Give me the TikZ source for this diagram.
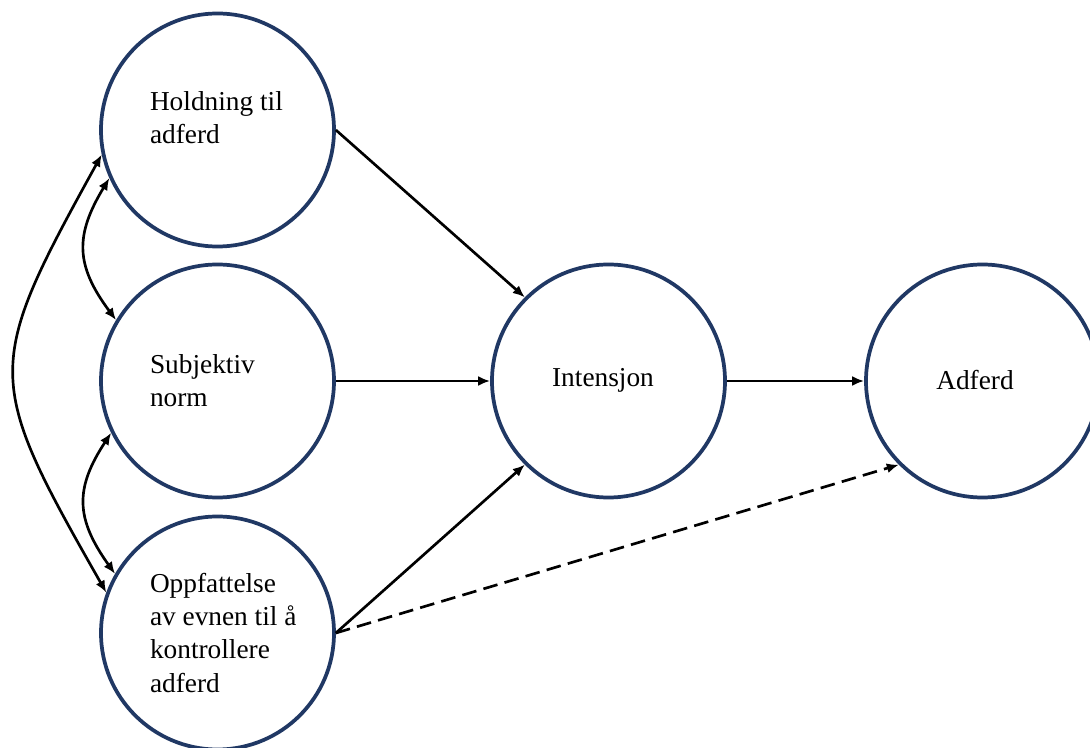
\documentclass[tikz,border=0pt]{standalone}
\usepackage{fontspec}
\setmainfont{Liberation Serif}
\usetikzlibrary{arrows.meta}
\definecolor{circblue}{RGB}{32,56,100}
\begin{document}
\begin{tikzpicture}[x=0.75pt,y=-0.75pt,
  concept/.style={circle,draw=circblue,line width=2.8pt,minimum size=174.75pt,inner sep=0pt},
  lbl/.style={inner sep=0pt,outer sep=0pt,align=left,font=\fontsize{20.5pt}{25pt}\selectfont},
  arr/.style={line width=2pt,-{Latex[length=9pt,width=7.5pt]}},
  biarr/.style={line width=2pt,{Latex[length=9pt,width=7.5pt]}-{Latex[length=9pt,width=7.5pt]}},
  dasharr/.style={arr,dash pattern=on 11pt off 5.5pt}]
\clip (0,0) rectangle (1090,748);
\fill[white] (0,0) rectangle (1090,748);
% circles
\node[concept] (H) at (217.5,130) {};
\node[concept] (S) at (217.5,381) {};
\node[concept] (O) at (217.5,633) {};
\node[concept] (I) at (608.5,381) {};
\node[concept] (A) at (982.5,381) {};
% texts (base anchor = baseline of last line)
\node[lbl,anchor=base west] (Ht) at (150,144) {Holdning til\\adferd};
\node[lbl,anchor=base west] (St) at (150,407) {Subjektiv\\norm};
\node[lbl,anchor=base west] (Ot) at (150,692) {Oppfattelse\\av evnen til å\\kontrollere\\adferd};
\node[lbl,anchor=base] (It) at (603,387) {Intensjon};
\node[lbl,anchor=base] (At) at (975,390) {Adferd};
% straight connectors
\draw[arr] (H.east) -- (I.135);
\draw[arr] (S.east) -- (I.west);
\draw[arr] (O.east) -- (I.225);
\draw[dasharr] (O.east) -- (A.225);
\draw[arr] (I.east) -- (A.west);
% curved double-headed connectors
\draw[biarr] (H.192) .. controls (-16,368) and (-16,378) .. (O.160);
\draw[biarr] (H.204) .. controls (75,235) and (75,265) .. (S.149);
\draw[biarr] (S.206) .. controls (75,488) and (75,518) .. (O.150);
\end{tikzpicture}
\end{document}
